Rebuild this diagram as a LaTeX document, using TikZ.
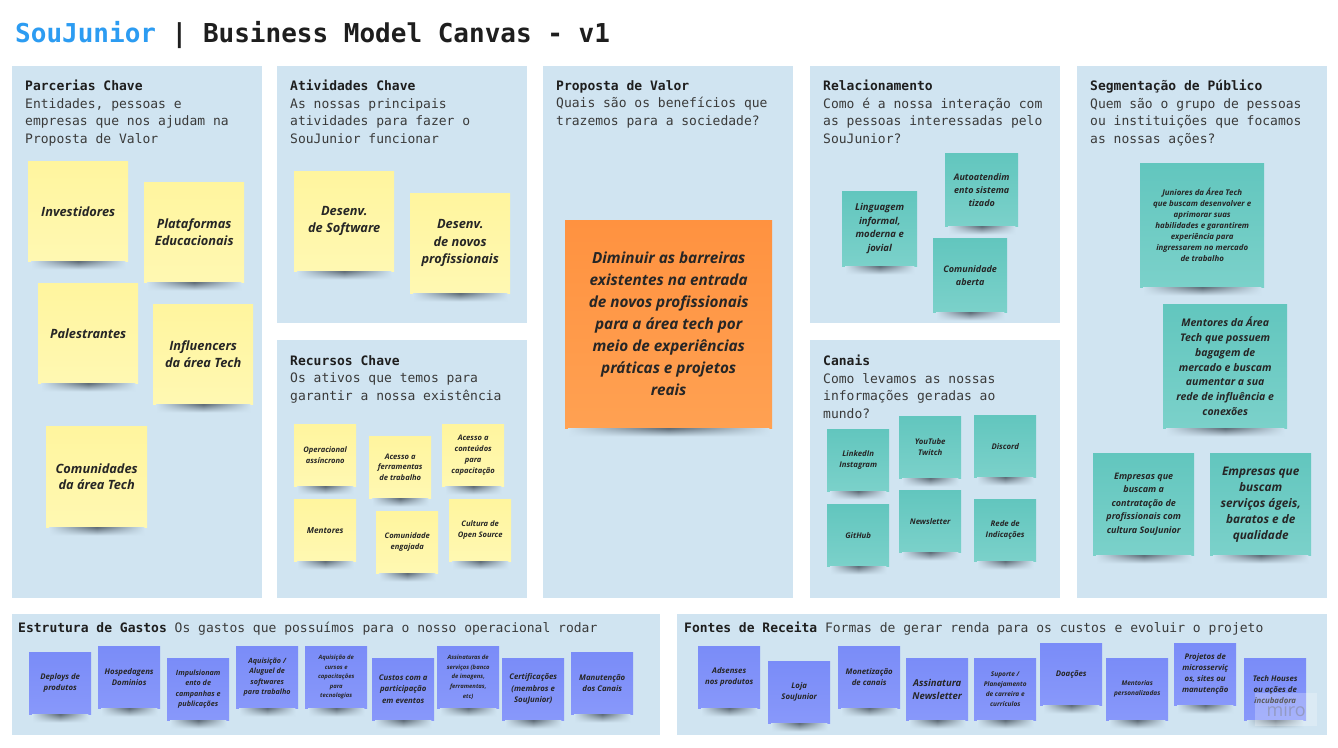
\documentclass[tikz,border=0pt]{standalone}
\usepackage{fontspec}
\setmonofont{DejaVu Sans Mono}
\newfontfamily\notefont{Open Sans}
\usepackage{tikz}
\usetikzlibrary{fadings}

\definecolor{panelblue}{HTML}{D0E4F1}
\definecolor{titleblue}{HTML}{2C9CF2}
\definecolor{headtext}{HTML}{1E1E1E}
\definecolor{desctext}{HTML}{3A3A3A}
\definecolor{notetext}{HTML}{262626}
\definecolor{yellowtop}{HTML}{FFF59E}
\definecolor{yellowbot}{HTML}{FFF8B2}
\definecolor{tealtop}{HTML}{62C6BE}
\definecolor{tealbot}{HTML}{7BD1CA}
\definecolor{bluetop}{HTML}{7A8CF8}
\definecolor{bluebot}{HTML}{8898FA}
\definecolor{orangetop}{HTML}{FF9240}
\definecolor{orangebot}{HTML}{FFA152}
\definecolor{shadowgray}{HTML}{5E6B76}

\begin{document}
\begin{tikzpicture}[x=1pt, y=-1pt,
	PanelStyle/.style = {shape=rectangle, fill=panelblue, anchor=north west, inner sep=0pt},
	PanelText/.style = {anchor=north west, align=left, inner sep=0pt, text=desctext, font=\ttfamily\fontsize{13}{17.5}\selectfont},
	NoteStyle/.style = {shape=rectangle, anchor=north west, inner sep=1pt, align=center, text=notetext},
	NoteShadow/.style = {left color=panelblue, right color=panelblue, middle color=shadowgray, path fading=south},
	Yellow/.style = {NoteStyle, top color=yellowtop, bottom color=yellowbot},
	Teal/.style = {NoteStyle, top color=tealtop, bottom color=tealbot},
	Blue/.style = {NoteStyle, top color=bluetop, bottom color=bluebot},
	Orange/.style = {NoteStyle, top color=orangetop, bottom color=orangebot},
	Size/.style 2 args = {font=\notefont\bfseries\itshape\fontsize{#1}{#2}\selectfont}]

	\useasboundingbox[fill=white] (0,0) rectangle (1338,747);

	% title
	\node[anchor=base west, inner sep=0pt, text=headtext, font=\ttfamily\bfseries\fontsize{26}{30}\selectfont] (title) at (15,42)
		{\textcolor{titleblue}{SouJunior} | Business Model Canvas - v1};

	% panels
	\node[PanelStyle, minimum width=250pt, minimum height=532pt] (parcerias) at (12,66) {};
	\node[PanelStyle, minimum width=250pt, minimum height=257pt] (atividades) at (277,66) {};
	\node[PanelStyle, minimum width=250pt, minimum height=258pt] (recursos) at (277,340) {};
	\node[PanelStyle, minimum width=250pt, minimum height=532pt] (proposta) at (543,66) {};
	\node[PanelStyle, minimum width=250pt, minimum height=257pt] (relacao) at (810,66) {};
	\node[PanelStyle, minimum width=250pt, minimum height=258pt] (canais) at (810,340) {};
	\node[PanelStyle, minimum width=250pt, minimum height=532pt] (segmento) at (1077,66) {};
	\node[PanelStyle, minimum width=648pt, minimum height=121pt] (gastos) at (12,614) {};
	\node[PanelStyle, minimum width=650pt, minimum height=121pt] (receita) at (677,614) {};

	\node[PanelText] (parceriasTxt) at (25,80) {\textcolor{headtext}{\textbf{Parcerias Chave}}\\Entidades, pessoas e\\empresas que nos ajudam na\\Proposta de Valor};
	\node[PanelText] (atividadesTxt) at (290,80) {\textcolor{headtext}{\textbf{Atividades Chave}}\\As nossas principais\\atividades para fazer o\\SouJunior funcionar};
	\node[PanelText] (recursosTxt) at (290,355) {\textcolor{headtext}{\textbf{Recursos Chave}}\\Os ativos que temos para\\garantir a nossa existência};
	\node[PanelText] (propostaTxt) at (556,80) {\textcolor{headtext}{\textbf{Proposta de Valor}}\\Quais são os benefícios que\\trazemos para a sociedade?};
	\node[PanelText] (relacaoTxt) at (823,80) {\textcolor{headtext}{\textbf{Relacionamento}}\\Como é a nossa interação com\\as pessoas interessadas pelo\\SouJunior?};
	\node[PanelText] (canaisTxt) at (823,355) {\textcolor{headtext}{\textbf{Canais}}\\Como levamos as nossas\\informações geradas ao\\mundo?};
	\node[PanelText] (segmentoTxt) at (1090,80) {\textcolor{headtext}{\textbf{Segmentação de Público}}\\Quem são o grupo de pessoas\\ou instituições que focamos\\as nossas ações?};
	\node[PanelText] (gastosTxt) at (18,622) {\textcolor{headtext}{\textbf{Estrutura de Gastos}} Os gastos que possuímos para o nosso operacional rodar};
	\node[PanelText] (receitaTxt) at (684,622) {\textcolor{headtext}{\textbf{Fontes de Receita}} Formas de gerar renda para os custos e evoluir o projeto};

	% parcerias chave
	\node[Yellow, minimum size=100pt, Size={12.8}{16.5}] (inv) at (28,161) {Investidores};
	\node[Yellow, minimum size=100pt, Size={12.8}{16.5}] (plat) at (144,182) {Plataformas\\Educacionais};
	\node[Yellow, minimum size=100pt, Size={12.8}{16.5}] (pal) at (38,283) {Palestrantes};
	\node[Yellow, minimum size=100pt, Size={12.8}{16.5}] (infl) at (153,304) {Influencers\\da área Tech};
	\node[Yellow, minimum size=101pt, Size={12.8}{16.5}] (comu) at (46,426) {Comunidades\\da área Tech};

	% atividades chave
	\node[Yellow, minimum size=100pt, Size={12.8}{16.5}] (dsoft) at (294,171) {Desenv.\\de Software};
	\node[Yellow, minimum size=100pt, Size={12.8}{17.5}] (dnovos) at (410,193) {Desenv.\\de novos\\profissionais};

	% recursos chave
	\node[Yellow, minimum size=62pt, Size={7.6}{11.5}] (opas) at (294,424) {Operacional\\assíncrono};
	\node[Yellow, minimum size=62pt, Size={7.6}{10.5}] (aferr) at (369,436) {Acesso a\\ferramentas\\de trabalho};
	\node[Yellow, minimum size=62pt, Size={7.6}{10.7}] (acont) at (442,424) {Acesso a\\conteúdos\\para\\capacitação};
	\node[Yellow, minimum size=62pt, Size={8.2}{11}] (ment) at (294,499) {Mentores};
	\node[Yellow, minimum size=62pt, Size={7.6}{11}] (comeng) at (376,511) {Comunidade\\engajada};
	\node[Yellow, minimum size=62pt, Size={7.6}{10.5}] (cultura) at (449,499) {Cultura de\\Open Source};

	% proposta de valor
	\node[Orange, minimum width=207pt, minimum height=208pt, Size={15.3}{22}] (prop) at (565,220)
		{Diminuir as barreiras\\existentes na entrada\\de novos profissionais\\para a área tech por\\meio de experiências\\práticas e projetos\\reais};

	% relacionamento
	\node[Teal, minimum size=75pt, Size={9.5}{13.5}] (ling) at (842,191) {Linguagem\\informal,\\moderna e\\jovial};
	\node[Teal, minimum size=73pt, Size={9}{13}] (auto) at (945,153) {Autoatendim\\ento sistema\\tizado};
	\node[Teal, minimum size=74pt, Size={9}{13}] (cabert) at (933,238) {Comunidade\\aberta};

	% canais
	\node[Teal, minimum size=62pt, Size={7.8}{11}] (linked) at (827,429) {LinkedIn\\Instagram};
	\node[Teal, minimum size=62pt, Size={7.8}{11}] (yt) at (899,416) {YouTube\\Twitch};
	\node[Teal, minimum size=62pt, Size={7.8}{11}] (disc) at (974,415) {Discord};
	\node[Teal, minimum size=62pt, Size={7.8}{11}] (gh) at (827,504) {GitHub};
	\node[Teal, minimum size=62pt, Size={7.8}{11}] (news) at (899,490) {Newsletter};
	\node[Teal, minimum size=62pt, Size={7.8}{11}] (rede) at (974,499) {Rede de\\Indicações};

	% segmentacao de publico
	\node[Teal, minimum size=124pt, Size={7.9}{11}] (jun) at (1140,163)
		{Juniores da Área Tech\\que buscam desenvolver e\\aprimorar suas\\habilidades e garantirem\\experiência para\\ingressarem no mercado\\de trabalho};
	\node[Teal, minimum size=124pt, Size={10.5}{14.7}] (mentor) at (1163,304)
		{Mentores da Área\\Tech que possuem\\bagagem de\\mercado e buscam\\aumentar a sua\\rede de influência e\\conexões};
	\node[Teal, minimum width=101pt, minimum height=102pt, Size={9}{13.5}] (empcont) at (1093,453)
		{Empresas que\\buscam a\\contratação de\\profissionais com\\cultura SouJunior};
	\node[Teal, minimum width=101pt, minimum height=102pt, Size={11.8}{16}] (empserv) at (1210,453)
		{Empresas que\\buscam\\serviços ágeis,\\baratos e de\\qualidade};

	% estrutura de gastos
	\node[Blue, minimum size=62pt, Size={7.8}{11}] (deploy) at (29,652) {Deploys de\\produtos};
	\node[Blue, minimum size=62pt, Size={7.8}{11}] (hosp) at (98,646) {Hospedagens\\Dominios};
	\node[Blue, minimum size=62pt, Size={7.2}{10.5}] (impuls) at (167,658) {Impulsionam\\ento de\\campanhas e\\publicações};
	\node[Blue, minimum size=62pt, Size={7.2}{10.5}] (aqsoft) at (236,646) {Aquisição /\\Aluguel de\\softwares\\para trabalho};
	\node[Blue, minimum size=62pt, Size={5.9}{9.5}] (aqcurso) at (305,646) {Aquisição de\\cursos e\\capacitações\\para\\tecnologias};
	\node[Blue, minimum size=62pt, Size={7.8}{11}] (eventos) at (372,658) {Custos com a\\participação\\em eventos};
	\node[Blue, minimum size=62pt, Size={5.9}{9.7}] (assin) at (437,646) {Assinaturas de\\serviços (banco\\de imagens,\\ferramentas,\\etc)};
	\node[Blue, minimum size=62pt, Size={7.8}{11.5}] (cert) at (502,658) {Certificações\\(membros e\\SouJunior)};
	\node[Blue, minimum size=62pt, Size={7.8}{11}] (manut) at (571,652) {Manutenção\\dos Canais};

	% fontes de receita
	\node[Blue, minimum size=62pt, Size={7.8}{11}] (adsense) at (698,646) {Adsenses\\nos produtos};
	\node[Blue, minimum size=62pt, Size={7.8}{11}] (loja) at (768,661) {Loja\\SouJunior};
	\node[Blue, minimum size=62pt, Size={7.8}{11}] (monet) at (838,646) {Monetização\\de canais};
	\node[Blue, minimum size=62pt, Size={9.5}{13}] (assnews) at (906,658) {Assinatura\\Newsletter};
	\node[Blue, minimum size=62pt, Size={6.5}{10.3}] (suporte) at (974,658) {Suporte /\\Planejamento\\de carreira e\\currículos};
	\node[Blue, minimum size=62pt, Size={7.8}{11}] (doa) at (1040,643) {Doações};
	\node[Blue, minimum size=62pt, Size={6.5}{10}] (mentp) at (1106,658) {Mentorias\\personalizadas};
	\node[Blue, minimum size=62pt, Size={7.8}{11}] (projms) at (1174,643) {Projetos de\\microsserviç\\os, sites ou\\manutenção};
	\node[Blue, minimum size=62pt, Size={7.8}{11}] (tech) at (1244,658) {Tech Houses\\ou ações de\\incubadora};

	% shadows under the notes
	\foreach \n in {inv, plat, pal, infl, comu, dsoft, dnovos, opas, aferr, acont, ment, comeng, cultura, prop,
		ling, auto, cabert, linked, yt, disc, gh, news, rede, jun, mentor, empcont, empserv,
		deploy, hosp, impuls, aqsoft, aqcurso, eventos, assin, cert, manut,
		adsense, loja, monet, assnews, suporte, doa, mentp, projms, tech}
		\shade[NoteShadow] ([xshift=3pt]\n.south west) rectangle ([xshift=-3pt, yshift=-8pt]\n.south east);

	% watermark
	\node[anchor=north west, minimum width=62pt, minimum height=33pt, inner sep=0pt, fill=white, fill opacity=0.25, text opacity=0.45,
		text=gray, font=\notefont\fontsize{18}{18}\selectfont] (miro) at (1255,693) {miro};
\end{tikzpicture}
\end{document}
